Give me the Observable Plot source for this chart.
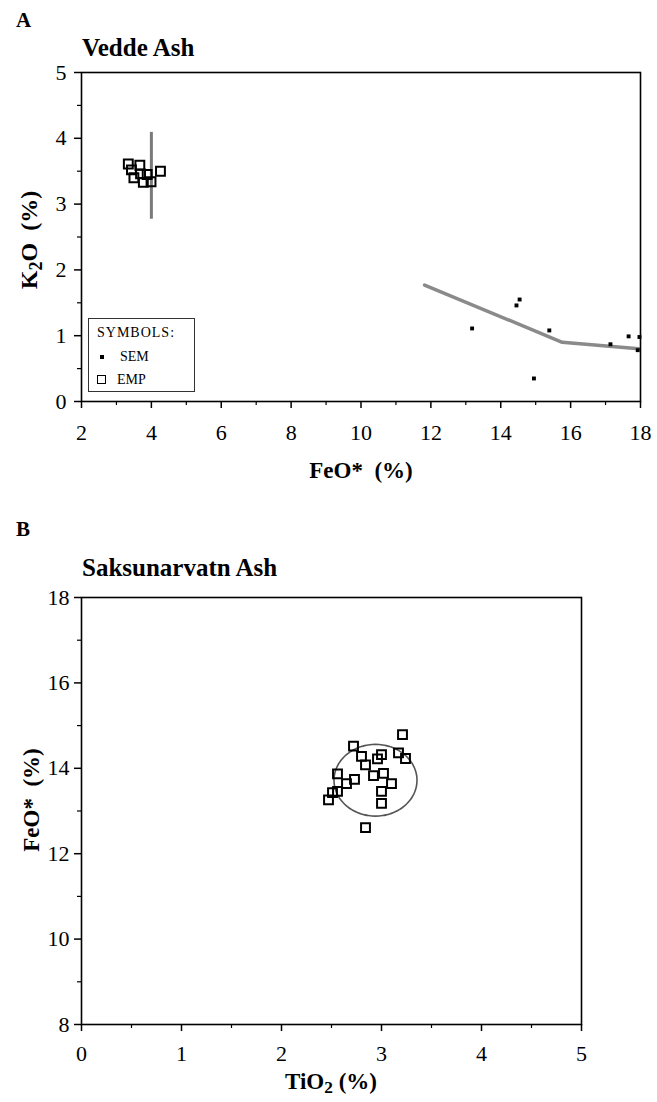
<!DOCTYPE html>
<html>
<head>
<meta charset="utf-8">
<script src="https://cdn.jsdelivr.net/npm/d3@7"></script>
<script src="https://cdn.jsdelivr.net/npm/@observablehq/plot@0.6"></script>
<style>
  html, body { margin: 0; padding: 0; background: white; }
  #root { position: relative; width: 657px; height: 1102px; font-family: "Liberation Serif", "Times New Roman", serif; color: black; }
  #root svg text { font-family: "Liberation Serif", "Times New Roman", serif !important; font-size: 22px !important; }
  .abs { position: absolute; white-space: pre; line-height: 1; }
  .bold { font-weight: bold; }
  .rot { transform: translate(-50%, -50%) rotate(-90deg); }
  .ctr { transform: translate(-50%, -50%); }
  .vc { transform: translate(0, -50%); }
  sub { font-size: 0.75em; vertical-align: -0.25em; }
  #legend { position: absolute; left: 88px; top: 318px; width: 107px; height: 74px; border: 1px solid #333; box-sizing: border-box; font-size: 14px; }
  #legend .row { position: absolute; left: 8px; white-space: pre; }
  .semSym { display: inline-block; width: 4px; height: 4px; background: black; margin: 0 16px 2px 3px; vertical-align: middle; }
  .empSym { display: inline-block; width: 7px; height: 7px; border: 1.5px solid black; margin: 0 11px 2px 0; vertical-align: middle; }
</style>
</head>
<body>
<div id="root"></div>
<script>
// ---------- Panel A: Vedde Ash ----------
const xTicksA = [2, 4, 6, 8, 10, 12, 14, 16, 18];
const xMinorA = [3, 5, 7, 9, 11, 13, 15, 17];
const yTicksA = [0, 1, 2, 3, 4, 5];
const yMinorA = [0.5, 1.5, 2.5, 3.5, 4.5];

const semFeO = [13.18, 14.45, 14.54, 15.39, 14.95, 17.14, 17.66, 17.97, 17.92];
const semK2O = [1.11, 1.46, 1.55, 1.08, 0.35, 0.87, 0.99, 0.98, 0.78];

const empFeO = [3.34, 3.43, 3.67, 3.50, 3.69, 3.77, 3.88, 3.99, 4.26];
const empK2O = [3.61, 3.52, 3.59, 3.40, 3.46, 3.33, 3.45, 3.34, 3.50];

const trendFeO = [11.82, 15.76, 17.95];
const trendK2O = [1.77, 0.90, 0.80];

const rangeFeO = [4.0];
const rangeK2OLow = [2.77];
const rangeK2OHigh = [4.09];

// ---------- Panel B: Saksunarvatn Ash ----------
const xTicksB = [0, 1, 2, 3, 4, 5];
const xMinorB = [0.5, 1.5, 2.5, 3.5, 4.5];
const yTicksB = [8, 10, 12, 14, 16, 18];
const yMinorB = [9, 11, 13, 15, 17];

const bTiO2 = [3.21, 2.72, 2.80, 2.84, 2.96, 3.00, 3.17, 3.24, 2.56, 2.73, 2.65, 2.92, 3.02, 3.10, 3.00, 2.56, 2.51, 2.47, 3.00, 2.84];
const bFeO  = [14.79, 14.52, 14.28, 14.08, 14.22, 14.32, 14.36, 14.23, 13.87, 13.74, 13.64, 13.83, 13.88, 13.64, 13.46, 13.46, 13.43, 13.26, 13.18, 12.61];

// field ellipse (centre and half-widths in data units)
const ellipseCentre = [2.94, 13.72];
const ellipseRadii = [0.415, 0.84];

const semData = semFeO.map((x, i) => ({x, y: semK2O[i]}));
const empData = empFeO.map((x, i) => ({x, y: empK2O[i]}));
const trendData = trendFeO.map((x, i) => ({x, y: trendK2O[i]}));
const rangeData = rangeFeO.map((x, i) => ({x, y1: rangeK2OLow[i], y2: rangeK2OHigh[i]}));
const bData = bTiO2.map((x, i) => ({x, y: bFeO[i]}));
const ellipseData = d3.range(0, 361, 5).map(a => ({
  x: ellipseCentre[0] + ellipseRadii[0] * Math.cos(a * Math.PI / 180),
  y: ellipseCentre[1] + ellipseRadii[1] * Math.sin(a * Math.PI / 180)
}));

const FONT = '"Liberation Serif", "Times New Roman", serif';
const baseStyle = {fontFamily: FONT, fontSize: "22px", color: "black", background: "white", overflow: "visible"};
const blank = () => "";
const fmt = d => String(d);

const plotA = Plot.plot({
  width: 657, height: 460,
  marginTop: 72, marginBottom: 59, marginLeft: 81, marginRight: 17,
  x: {domain: [2, 18]},
  y: {domain: [0, 5]},
  style: baseStyle,
  marks: [
    Plot.line(trendData, {x: "x", y: "y", stroke: "#8a8a8a", strokeWidth: 3.5}),
    Plot.ruleX(rangeData, {x: "x", y1: "y1", y2: "y2", stroke: "#7a7a7a", strokeWidth: 3}),
    Plot.dot(semData, {x: "x", y: "y", symbol: "square", r: 2.2, fill: "black", stroke: "none"}),
    Plot.dot(empData, {x: "x", y: "y", symbol: "square", r: 5, fill: "white", stroke: "black", strokeWidth: 2, fillOpacity: 0}),
    Plot.frame({stroke: "black", strokeWidth: 1.6}),
    Plot.axisX(xTicksA, {tickSize: 7, tickPadding: 16, strokeWidth: 1.5, label: null, tickFormat: fmt}),
    Plot.axisX(xMinorA, {tickSize: 4, tickFormat: blank, strokeWidth: 1.2, label: null}),
    Plot.axisY(yTicksA, {tickSize: 7, tickPadding: 8, strokeWidth: 1.5, label: null, tickFormat: fmt}),
    Plot.axisY(yMinorA, {tickSize: 4, tickFormat: blank, strokeWidth: 1.2, label: null})
  ]
});

const plotB = Plot.plot({
  width: 657, height: 562,
  marginTop: 57, marginBottom: 78, marginLeft: 81, marginRight: 76,
  x: {domain: [0, 5]},
  y: {domain: [8, 18]},
  style: baseStyle,
  marks: [
    Plot.line(ellipseData, {x: "x", y: "y", stroke: "#555", strokeWidth: 1.6, curve: "catmull-rom"}),
    Plot.dot(bData, {x: "x", y: "y", symbol: "square", r: 5, fill: "white", stroke: "black", strokeWidth: 2, fillOpacity: 0}),
    Plot.frame({stroke: "black", strokeWidth: 1.6}),
    Plot.axisX(xTicksB, {tickSize: 7, tickPadding: 14, strokeWidth: 1.5, label: null, tickFormat: fmt}),
    Plot.axisX(xMinorB, {tickSize: 4, tickFormat: blank, strokeWidth: 1.2, label: null}),
    Plot.axisY(yTicksB, {tickSize: 7, tickPadding: 5, strokeWidth: 1.5, label: null, tickFormat: fmt}),
    Plot.axisY(yMinorB, {tickSize: 4, tickFormat: blank, strokeWidth: 1.2, label: null})
  ]
});

const root = document.getElementById("root");
plotA.style.position = "absolute"; plotA.style.left = "0px"; plotA.style.top = "0px";
plotB.style.position = "absolute"; plotB.style.left = "0px"; plotB.style.top = "540px";
root.appendChild(plotA);
root.appendChild(plotB);

function addText(html, cls, left, top, size) {
  const d = document.createElement("div");
  d.className = "abs " + cls;
  d.style.left = left + "px";
  d.style.top = top + "px";
  d.style.fontSize = size + "px";
  d.innerHTML = html;
  root.appendChild(d);
}
addText("A", "bold vc", 16, 20, 21);
addText("Vedde Ash", "bold vc", 82, 47, 25);
addText("K<sub>2</sub>O  (%)", "bold rot", 31, 240, 24);
addText("FeO*  (%)", "bold ctr", 361, 470, 23);

addText("B", "bold vc", 16, 529, 21);
addText("Saksunarvatn Ash", "bold vc", 82, 567, 25);
addText("FeO*  (%)", "bold rot", 31, 800, 23);
addText("TiO<sub>2</sub> (%)", "bold ctr", 331, 1083, 23);

const leg = document.createElement("div");
leg.id = "legend";
leg.innerHTML =
  '<div class="row" style="top:6px;letter-spacing:1px">SYMBOLS:</div>' +
  '<div class="row" style="top:30px"><span class="semSym"></span>SEM</div>' +
  '<div class="row" style="top:53px"><span class="empSym"></span>EMP</div>';
root.appendChild(leg);
</script>
</body>
</html>
